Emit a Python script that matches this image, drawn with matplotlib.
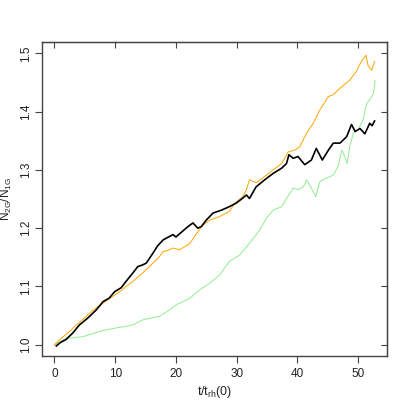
import matplotlib
matplotlib.use('Agg')
import matplotlib.pyplot as plt

plt.rcParams['font.family'] = ['Liberation Sans', 'DejaVu Sans']
plt.rcParams['mathtext.default'] = 'regular'

# N2G/N1G vs t/trh(0)
black_t = [0.3, 1.0, 1.9, 3.0, 4.1, 5.5, 6.9, 8.0, 9.0, 9.9, 11.0, 11.8, 12.9, 13.7, 14.5, 15.1,
           16.2, 17.0, 17.9, 19.5, 20.0, 21.0, 22.0, 22.8, 23.6, 24.2, 25.0, 26.1, 27.5, 28.8,
           29.9, 30.8, 31.6, 32.1, 33.2, 34.6, 36.0, 37.4, 38.2, 38.6, 39.3, 40.1, 41.2, 42.3,
           43.1, 44.1, 45.1, 45.9, 47.0, 48.1, 48.9, 49.5, 50.3, 51.1, 51.9, 52.3, 52.7]
black_y = [0.998, 1.004, 1.009, 1.020, 1.034, 1.046, 1.060, 1.074, 1.080, 1.091, 1.098, 1.109,
           1.123, 1.134, 1.137, 1.140, 1.157, 1.170, 1.180, 1.189, 1.185, 1.194, 1.203, 1.209,
           1.200, 1.203, 1.214, 1.226, 1.231, 1.237, 1.243, 1.250, 1.257, 1.251, 1.271, 1.283,
           1.294, 1.303, 1.311, 1.326, 1.320, 1.323, 1.309, 1.317, 1.337, 1.317, 1.334, 1.346,
           1.346, 1.357, 1.378, 1.366, 1.371, 1.362, 1.380, 1.376, 1.384]

orange_t = [0.0, 1.1, 2.4, 3.6, 4.7, 5.8, 6.8, 7.7, 8.6, 9.6, 10.7, 11.8, 12.6, 13.5, 14.3, 15.1,
            15.8, 16.5, 17.2, 17.9, 18.7, 19.5, 20.6, 21.4, 22.3, 23.4, 24.5, 25.6, 27.2, 28.8,
            29.7, 31.0, 31.6, 32.1, 33.2, 34.9, 36.0, 37.4, 38.5, 39.6, 40.4, 41.5, 42.6, 43.7,
            45.1, 45.9, 47.0, 48.6, 49.7, 50.5, 51.3, 51.6, 52.2, 52.7]
orange_y = [1.000, 1.011, 1.022, 1.034, 1.044, 1.054, 1.063, 1.069, 1.076, 1.083, 1.091, 1.100,
            1.106, 1.114, 1.121, 1.129, 1.136, 1.143, 1.150, 1.160, 1.162, 1.166, 1.163, 1.168,
            1.174, 1.191, 1.206, 1.214, 1.220, 1.229, 1.243, 1.254, 1.266, 1.283, 1.278, 1.291,
            1.300, 1.311, 1.331, 1.334, 1.340, 1.363, 1.380, 1.403, 1.426, 1.429, 1.440, 1.454,
            1.469, 1.486, 1.497, 1.480, 1.471, 1.486]

green_t = [0.0, 1.9, 3.3, 4.7, 6.0, 7.4, 8.8, 10.2, 11.5, 12.9, 14.6, 16.0, 17.3, 18.7, 20.1,
           21.2, 22.3, 23.9, 25.6, 27.2, 28.8, 30.5, 32.1, 33.8, 34.9, 36.0, 37.4, 38.2, 39.3,
           40.1, 41.0, 41.5, 42.3, 43.0, 43.7, 44.8, 45.9, 46.7, 47.3, 47.8, 48.2, 48.6, 49.2,
           50.0, 50.8, 51.4, 51.9, 52.5, 52.8]
green_y = [1.000, 1.011, 1.012, 1.014, 1.018, 1.023, 1.026, 1.029, 1.031, 1.034, 1.043, 1.046,
           1.049, 1.058, 1.069, 1.074, 1.080, 1.094, 1.106, 1.120, 1.143, 1.154, 1.174, 1.197,
           1.217, 1.231, 1.237, 1.251, 1.269, 1.266, 1.271, 1.283, 1.269, 1.254, 1.280, 1.286,
           1.291, 1.306, 1.334, 1.323, 1.311, 1.340, 1.363, 1.369, 1.386, 1.414, 1.420, 1.431,
           1.454]

fig = plt.figure(figsize=(4.09, 4.09), dpi=100)
ax = fig.add_axes([0.102, 0.13, 0.845, 0.768])

ax.plot(green_t, green_y, color='#90ee90', lw=0.7)
ax.plot(orange_t, orange_y, color='#ffa500', lw=0.7)
ax.plot(black_t, black_y, color='black', lw=1.2)

ax.set_xlim(-2.1, 54.8)
ax.set_ylim(0.981, 1.52)
ax.set_xticks([0, 10, 20, 30, 40, 50])
ax.set_yticks([1.0, 1.1, 1.2, 1.3, 1.4, 1.5])
ax.set_yticklabels(['1.0', '1.1', '1.2', '1.3', '1.4', '1.5'], rotation=90, va='center')

for s in ax.spines.values():
    s.set_color('#444444')
    s.set_linewidth(1.0)

ax.tick_params(direction='out', length=5, width=0.8, color='#444444',
               labelsize=8.5, labelcolor='#222222', pad=4)
ax.tick_params(axis='y', pad=2)

# inward ticks on top and right, no labels
top = ax.secondary_xaxis('top')
top.set_xticks([0, 10, 20, 30, 40, 50])
top.tick_params(direction='in', length=4, width=0.8, color='#444444', labeltop=False)
right = ax.secondary_yaxis('right')
right.set_yticks([1.0, 1.1, 1.2, 1.3, 1.4, 1.5])
right.tick_params(direction='in', length=4, width=0.8, color='#444444', labelright=False)

ax.set_xlabel('t/t$_{rh}$(0)', fontsize=9, color='#222222', labelpad=3)
ax.set_ylabel('N$_{2G}$/N$_{1G}$', fontsize=8.5, color='#222222')
ax.yaxis.set_label_coords(-0.08, 0.5)

fig.savefig('out.png', dpi=100)
